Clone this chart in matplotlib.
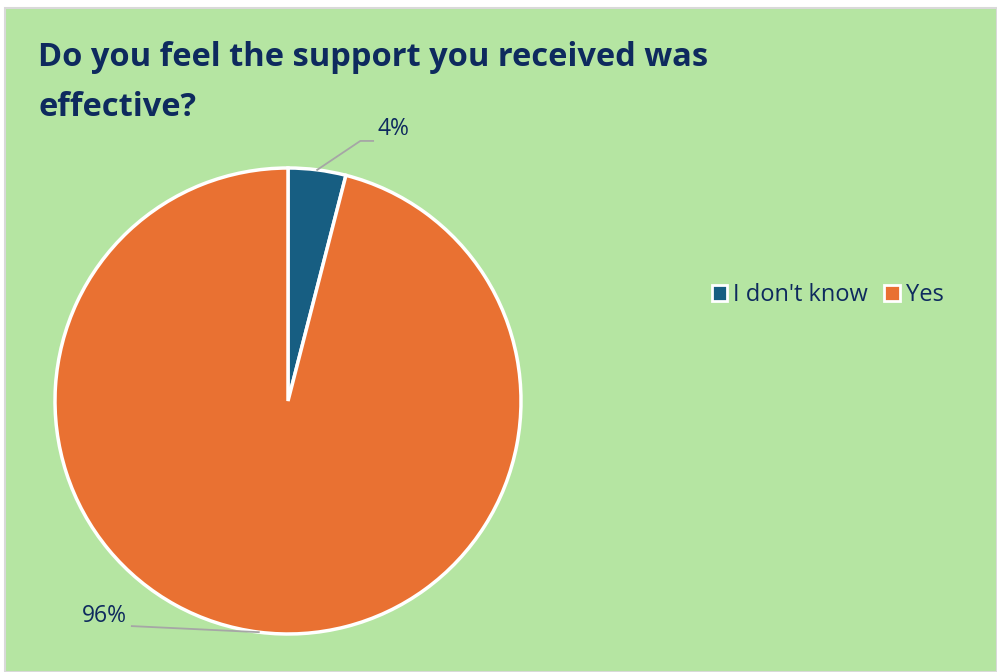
import numpy as np
import matplotlib.pyplot as plt
from matplotlib.patches import Patch, Rectangle

CATEGORIES = ["I don't know", "Yes"]
PERCENTS = [4, 96]
COLORS = ["#175e82", "#e97132"]
TITLE_LINES = ["Do you feel the support you received was", "effective?"]

BG = "#b5e5a2"
NAVY = "#0e2a5e"
LEADER = "#a6a6a6"

W, H = 997, 672
fig = plt.figure(figsize=(W / 100, H / 100), dpi=100, facecolor="white")

# chart area panel with thin grey border
fig.patches.append(Rectangle((5 / W, 0), 1 - 5 / W, 1 - 8 / H, transform=fig.transFigure,
                             facecolor=BG, edgecolor="#d9d9d9", linewidth=1.5, zorder=-5))

# title, one text per line so each box stays tight
for line, base in zip(TITLE_LINES, [66, 116]):
    fig.text(38 / W, 1 - base / H, line, ha="left", va="baseline", fontsize=23.5,
             fontfamily="Open Sans", fontweight="bold", color=NAVY)

# pie axes: centre (288, 401) px, radius 233 px
cx, cy, r = 288, 401, 233
ax = fig.add_axes([(cx - r) / W, (H - cy - r) / H, 2 * r / W, 2 * r / H])

wedges, _ = ax.pie(PERCENTS, colors=COLORS, startangle=90, counterclock=False,
                   radius=1, wedgeprops=dict(edgecolor="white", linewidth=2.5))
ax.set_xlim(-1, 1)
ax.set_ylim(-1, 1)
ax.axis("off")

# leader lines and percentage labels
label_kw = dict(fontsize=16.5, fontfamily="Open Sans", color=NAVY, va="center")
for w, pct in zip(wedges, PERCENTS):
    mid = np.deg2rad((w.theta1 + w.theta2) / 2)
    ex, ey = np.cos(mid), np.sin(mid)
    if ex >= 0:
        elbow = (ex + 0.185, ey + 0.124)
        end = (elbow[0] + 0.055, elbow[1])
        ax.plot([ex, elbow[0], end[0]], [ey, elbow[1], end[1]], color=LEADER,
                lw=1.3, clip_on=False, zorder=3)
        ax.text(end[0] + 0.02, end[1] + 0.05, f"{pct}%", ha="left", **label_kw)
    else:
        end = (ex - 0.545, ey + 0.026)
        ax.plot([ex, end[0]], [ey, end[1]], color=LEADER, lw=1.3,
                clip_on=False, zorder=3)
        ax.text(end[0] - 0.02, end[1] + 0.045, f"{pct}%", ha="right", **label_kw)

handles = [Patch(facecolor=c, edgecolor="white", linewidth=2) for c in COLORS]
fig.legend(handles, CATEGORIES, loc="center left",
           bbox_to_anchor=(700 / W, 1 - 295 / H), ncol=2, frameon=False,
           handlelength=0.65, handleheight=0.65, handletextpad=0.25,
           columnspacing=0.7, borderpad=0,
           prop=dict(family="Open Sans", size=17), labelcolor=NAVY)

fig.savefig("out.png", dpi=100, facecolor="white")
